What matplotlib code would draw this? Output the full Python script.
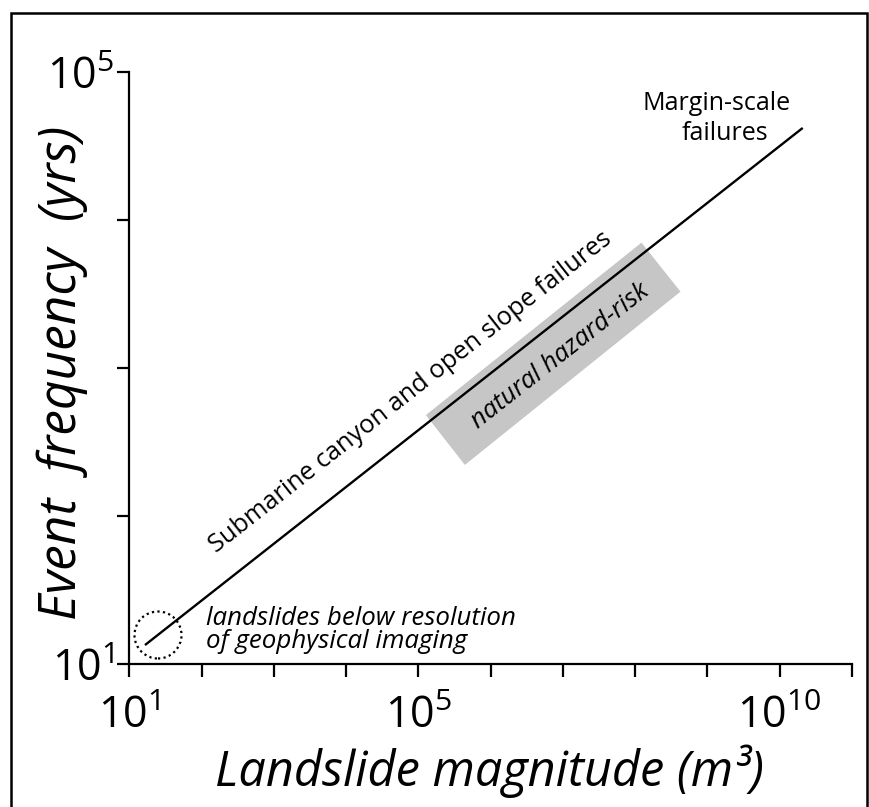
import numpy as np
import matplotlib
matplotlib.use('Agg')
import matplotlib.pyplot as plt
from matplotlib import patches

plt.rcParams['font.family'] = ['Open Sans', 'DejaVu Sans']
plt.rcParams['mathtext.fontset'] = 'custom'
plt.rcParams['mathtext.rm'] = 'Open Sans'
plt.rcParams['mathtext.it'] = 'Open Sans:italic'

# magnitude-frequency trend (m3 vs yrs), end points
line_x = [10**1.217, 10**10.318]
line_y = [10**1.128, 10**4.622]

# grey "natural hazard-risk" band, four corners
band_x = [10**5.104, 10**8.087, 10**8.627, 10**5.643]
band_y = [10**2.682, 10**3.847, 10**3.516, 10**2.345]

# dotted circle round the small landslides
circle_x = 10**1.397
circle_y = 10**1.196

x_ticks = [10.0**k for k in range(1, 12)]
x_labels = ['$10^{1}$', '', '', '', '$10^{5}$', '', '', '', '', '$10^{10}$', '']
y_ticks = [10.0**k for k in range(1, 6)]
y_labels = ['$10^{1}$', '', '', '', '$10^{5}$']

W, H = 870, 807
fig = plt.figure(figsize=(W / 100, H / 100), dpi=100)
ax_l, ax_b, ax_w, ax_h = 129.3, 664, 722.7, 592
ax = fig.add_axes([ax_l / W, 1 - ax_b / H, ax_w / W, ax_h / H])
ax.set_xscale('log')
ax.set_yscale('log')
ax.set_xlim(1e1, 1e11)
ax.set_ylim(1e1, 1e5)

ax.set_xticks(x_ticks)
ax.set_xticklabels(x_labels, fontsize=31)
ax.set_yticks(y_ticks)
ax.set_yticklabels(y_labels, fontsize=31)
ax.minorticks_off()
ax.tick_params(direction='out', length=9, width=1.6, color='black')
ax.tick_params(axis='x', pad=13)
ax.tick_params(axis='y', pad=2)
for s in ['top', 'right']:
    ax.spines[s].set_visible(False)
for s in ['left', 'bottom']:
    ax.spines[s].set_linewidth(1.6)
ax.patch.set_alpha(0)

# band first, then the line on top
ax.add_patch(patches.Polygon(list(zip(band_x, band_y)), closed=True,
                             facecolor='#c6c6c6', edgecolor='none', zorder=1))
ax.plot(line_x, line_y, color='black', lw=1.7, zorder=2, solid_capstyle='butt')

r = 23.5
ax.add_patch(patches.Ellipse(ax.transAxes.inverted().transform(
    ax.transData.transform((circle_x, circle_y))),
    2 * r / ax_w, 2 * r / ax_h, transform=ax.transAxes,
    fill=False, edgecolor='black', lw=1.6, linestyle=(0, (1, 1.5)), clip_on=False))

p0 = ax.transData.transform((line_x[0], line_y[0]))
p1 = ax.transData.transform((line_x[1], line_y[1]))
ang = np.degrees(np.arctan2(p1[1] - p0[1], p1[0] - p0[0]))
a = np.radians(ang)
off = 20.2
ax.annotate('Submarine canyon and open slope failures',
            xy=(10**5.191, 10**2.654), xytext=(-np.sin(a) * off, np.cos(a) * off),
            textcoords='offset points', ha='center', va='baseline',
            rotation=ang, rotation_mode='anchor', fontsize=18.3)
ax.text(10**6.957, 10**3.081, 'natural hazard-risk', style='italic', fontsize=18.5,
        ha='center', va='center', rotation=ang, rotation_mode='anchor')

ax.text(10**9.124, 10**4.743, 'Margin-scale', fontsize=18, ha='center', va='baseline')
ax.text(10**9.246, 10**4.541, 'failures', fontsize=18, ha='center', va='baseline')

ax.text(10**2.061, 10**1.264, 'landslides below resolution', style='italic',
        fontsize=18.6, ha='left', va='baseline')
ax.text(10**2.061, 10**1.108, 'of geophysical imaging', style='italic',
        fontsize=18.6, ha='left', va='baseline')

fig.text(490 / W, 1 - 771 / H, 'Landslide magnitude (m³)', style='italic',
         fontsize=35, ha='center', va='center')
fig.text(62 / W, 1 - 373 / H, 'Event  frequency  (yrs)', style='italic',
         fontsize=37, ha='center', va='center', rotation=90)

# outer frame
fig.patches.append(patches.Rectangle((11 / W, -0.02), 856 / W, 1.02 - 13 / H,
                                     transform=fig.transFigure, fill=False,
                                     edgecolor='black', lw=1.8))

fig.savefig('out.png', dpi=100)
